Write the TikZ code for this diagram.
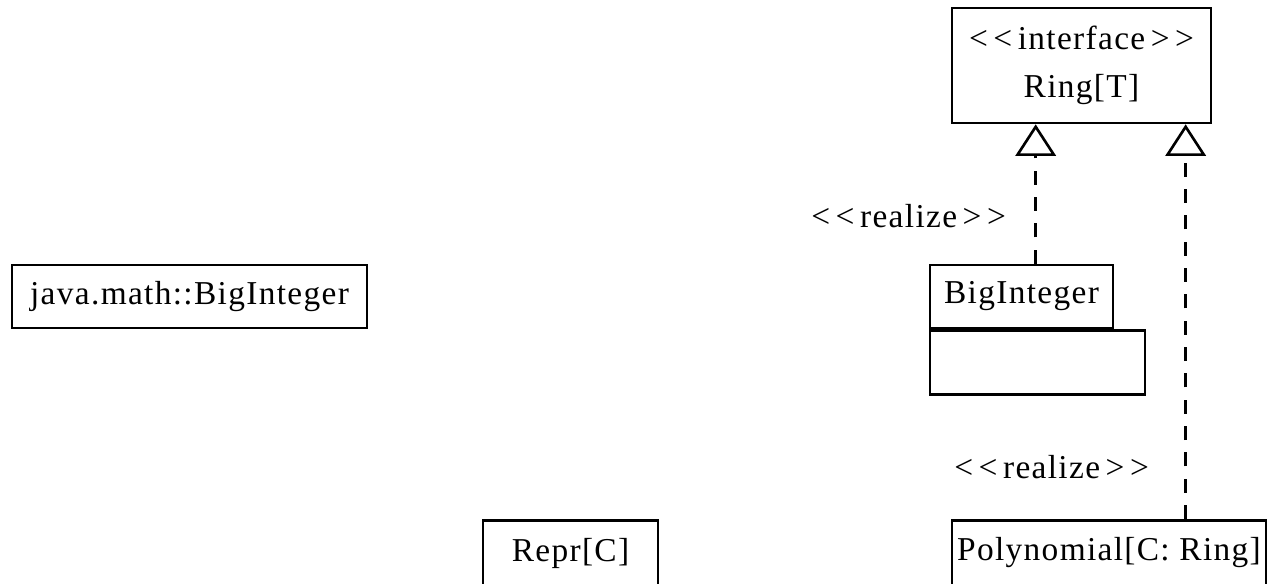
\documentclass[tikz,border=0pt]{standalone}
\usepackage{fontspec}
\setmainfont{Liberation Serif}[LetterSpace=4]
\usetikzlibrary{arrows.meta,positioning}
\tikzstyle{klasse}=[rectangle,draw=black,line width=1.5pt,inner sep=0pt,font=\fontsize{19}{27}\selectfont]
\tikzstyle{realize}=[-{Triangle[open,length=18pt,width=23pt]},dash pattern=on 8pt off 7pt,line width=1.5pt]
\tikzstyle{stereo}=[font=\fontsize{19}{22}\selectfont,inner sep=2pt]

\begin{document}
\begin{tikzpicture}[x=0.02cm,y=-0.02cm]

    \useasboundingbox (0,0) rectangle (1269,584);
    \clip (0,0) rectangle (1269,584);

    % Klassen
    \node[klasse, minimum width=5.18cm, minimum height=2.3cm, align=center] (ring) at (1081.5,65.5) {{<}\,{<}\,interface\,{>}\,{>}\\Ring[T]};
    \node[klasse, minimum width=3.66cm, minimum height=1.26cm] (bighead) at (1021.5,296.5) {BigInteger};
    \node[klasse, minimum width=4.3cm, minimum height=1.28cm] (bigbody) [below right=0pt and 0pt of bighead.south west] {};
    \node[klasse, minimum width=7.1cm, minimum height=1.26cm] (java) at (189.5,296.5) {java.math::BigInteger};
    \node[klasse, minimum width=3.5cm, minimum height=1.3cm] (repr) at (570.5,553) {Repr[C]};
    \node[klasse, minimum width=6.28cm, minimum height=1.3cm] (poly) at (1109,553) {Polynomial[C: Ring]};

    \coordinate (ringL) at ([xshift=1.7cm]ring.south west);
    \coordinate (ringR) at ([xshift=4.7cm]ring.south west);

    % Realisierungen
    \draw [realize] (bighead.north -| ringL) to node[stereo, left=0.5cm, pos=0.345] (real1) {{<}\,{<}\,realize\,{>}\,{>}} (ringL);
    \draw [realize] (poly.north -| ringR) to node[stereo, left=0.64cm, pos=0.131] (real2) {{<}\,{<}\,realize\,{>}\,{>}} (ringR);

\end{tikzpicture}
\end{document}
